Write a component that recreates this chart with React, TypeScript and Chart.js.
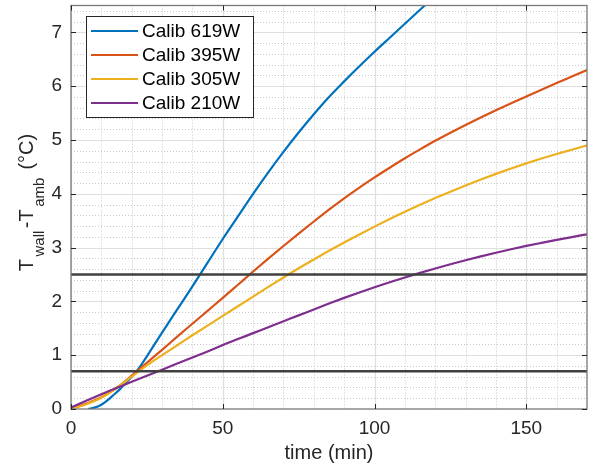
import React, { useEffect, useRef } from "react";
import { Chart, registerables } from "chart.js";

Chart.register(...registerables);

// ---- data ----
const TIME = [0, 5, 10, 15, 20, 25, 30, 35, 40, 45, 50, 55, 60, 65, 70, 75, 80, 85, 90, 95, 100, 105, 110, 115, 120, 125, 130, 135, 140, 145, 150, 155, 160, 165, 170];
const TIME_619W = [5.7, 8, 10, 12, 14, 16, 18, 20, 22, 25, 30, 35, 40, 45, 50, 55, 60, 65, 70, 75, 80, 85, 90, 95, 100, 105, 110, 115, 120];
const CALIB_619W = [0, 0.03, 0.08, 0.16, 0.26, 0.36, 0.48, 0.6, 0.73, 0.98, 1.42, 1.85, 2.28, 2.72, 3.16, 3.58, 4.0, 4.4, 4.78, 5.14, 5.48, 5.8, 6.09, 6.37, 6.64, 6.9, 7.16, 7.42, 7.68];
const CALIB_395W = [0, 0.1, 0.22, 0.39, 0.62, 0.86, 1.1, 1.345, 1.585, 1.825, 2.065, 2.31, 2.555, 2.795, 3.03, 3.26, 3.485, 3.705, 3.915, 4.115, 4.305, 4.485, 4.66, 4.825, 4.985, 5.135, 5.28, 5.42, 5.555, 5.685, 5.81, 5.935, 6.06, 6.18, 6.3];
const CALIB_305W = [0, 0.09, 0.21, 0.39, 0.6, 0.81, 1.0, 1.185, 1.37, 1.55, 1.73, 1.91, 2.09, 2.27, 2.445, 2.615, 2.78, 2.94, 3.095, 3.245, 3.39, 3.53, 3.665, 3.795, 3.92, 4.04, 4.155, 4.265, 4.37, 4.47, 4.565, 4.655, 4.74, 4.82, 4.9];
const CALIB_210W = [0.03, 0.155, 0.275, 0.39, 0.505, 0.618, 0.731, 0.844, 0.957, 1.07, 1.19, 1.3, 1.41, 1.52, 1.63, 1.74, 1.85, 1.96, 2.065, 2.165, 2.262, 2.355, 2.445, 2.53, 2.612, 2.69, 2.764, 2.836, 2.904, 2.969, 3.031, 3.088, 3.143, 3.196, 3.248];
const REF_LEVELS = [0.7, 2.5];
const SERIES_LABELS = ["Calib 619W", "Calib 395W", "Calib 305W", "Calib 210W"];
const SERIES_COLORS = ["#0072BD", "#D95319", "#EDB120", "#7E2F8E"];
const X_RANGE = [0, 170];
const Y_RANGE = [0, 7.5];
const X_MAJOR = [0, 50, 100, 150];
const Y_MAJOR = [0, 1, 2, 3, 4, 5, 6, 7];
const X_MINOR_STEP = 10;
const Y_MINOR_STEP = 0.2;

const FONT = "'Liberation Sans', Arial, Helvetica, sans-serif";
const TEXT = "#262626";

const toPoints = (xs: number[], ys: number[]) => xs.map((x, i) => ({ x, y: ys[i] }));

const matlabPlugin = {
  id: "matlabLook",
  beforeDatasetsDraw(chart: any) {
    const { ctx, chartArea: a, scales } = chart;
    const xs = scales.x;
    const ys = scales.y;
    ctx.save();
    ctx.beginPath();
    ctx.rect(a.left, a.top, a.right - a.left, a.bottom - a.top);
    ctx.clip();
    // minor dotted grid
    ctx.strokeStyle = "rgb(200,200,200)";
    ctx.lineWidth = 1;
    ctx.setLineDash([1, 2]);
    const nx = Math.round((X_RANGE[1] - X_RANGE[0]) / X_MINOR_STEP);
    for (let i = 1; i <= nx; i++) {
      const v = X_RANGE[0] + i * X_MINOR_STEP;
      if (X_MAJOR.some((m) => Math.abs(m - v) < 1e-6)) continue;
      const px = Math.round(xs.getPixelForValue(v)) + 0.5;
      ctx.beginPath();
      ctx.moveTo(px, a.top);
      ctx.lineTo(px, a.bottom);
      ctx.stroke();
    }
    const ny = Math.round((Y_RANGE[1] - Y_RANGE[0]) / Y_MINOR_STEP);
    for (let i = 1; i <= ny; i++) {
      const v = Y_RANGE[0] + i * Y_MINOR_STEP;
      if (Y_MAJOR.some((m) => Math.abs(m - v) < 1e-6)) continue;
      const py = Math.round(ys.getPixelForValue(v)) + 0.5;
      ctx.beginPath();
      ctx.moveTo(a.left, py);
      ctx.lineTo(a.right, py);
      ctx.stroke();
    }
    // major solid grid
    ctx.setLineDash([]);
    ctx.strokeStyle = "rgb(223,223,223)";
    ctx.lineWidth = 1.2;
    X_MAJOR.forEach((v) => {
      const px = Math.round(xs.getPixelForValue(v)) + 0.5;
      ctx.beginPath();
      ctx.moveTo(px, a.top);
      ctx.lineTo(px, a.bottom);
      ctx.stroke();
    });
    Y_MAJOR.forEach((v) => {
      const py = Math.round(ys.getPixelForValue(v)) + 0.5;
      ctx.beginPath();
      ctx.moveTo(a.left, py);
      ctx.lineTo(a.right, py);
      ctx.stroke();
    });
    ctx.restore();
  },
  afterDatasetsDraw(chart: any) {
    const { ctx, chartArea: a, scales } = chart;
    const xs = scales.x;
    const ys = scales.y;
    ctx.save();
    // axes box
    ctx.strokeStyle = "rgb(120,120,120)";
    ctx.lineWidth = 1.3;
    ctx.strokeRect(a.left, a.top, a.right - a.left, a.bottom - a.top);
    // inward ticks
    ctx.strokeStyle = TEXT;
    ctx.lineWidth = 1;
    const tl = 5;
    X_MAJOR.forEach((v) => {
      const px = Math.round(xs.getPixelForValue(v)) + 0.5;
      ctx.beginPath();
      ctx.moveTo(px, a.bottom);
      ctx.lineTo(px, a.bottom - tl);
      ctx.moveTo(px, a.top);
      ctx.lineTo(px, a.top + tl);
      ctx.stroke();
    });
    Y_MAJOR.forEach((v) => {
      const py = Math.round(ys.getPixelForValue(v)) + 0.5;
      ctx.beginPath();
      ctx.moveTo(a.left, py);
      ctx.lineTo(a.left + tl, py);
      ctx.moveTo(a.right, py);
      ctx.lineTo(a.right - tl, py);
      ctx.stroke();
    });

    // legend box
    const lx = a.left + 15;
    const ly = a.top + 10.5;
    const lw = 167;
    const lh = 101;
    ctx.fillStyle = "#ffffff";
    ctx.fillRect(lx, ly, lw, lh);
    ctx.strokeStyle = TEXT;
    ctx.lineWidth = 1;
    ctx.strokeRect(lx + 0.5, ly + 0.5, lw, lh);
    ctx.font = `19px ${FONT}`;
    ctx.textBaseline = "middle";
    ctx.textAlign = "left";
    SERIES_LABELS.forEach((lab, i) => {
      const cy = ly + 15 + i * 24;
      ctx.strokeStyle = SERIES_COLORS[i];
      ctx.lineWidth = 2.2;
      ctx.beginPath();
      ctx.moveTo(lx + 5, cy);
      ctx.lineTo(lx + 52, cy);
      ctx.stroke();
      ctx.fillStyle = "#000000";
      ctx.fillText(lab, lx + 56, cy + 1);
    });

    // x axis title
    ctx.fillStyle = TEXT;
    ctx.font = `20px ${FONT}`;
    ctx.textAlign = "center";
    ctx.textBaseline = "alphabetic";
    ctx.fillText("time (min)", (a.left + a.right) / 2, 459);

    // y axis title with subscripts
    const pieces: [string, boolean][] = [
      ["T", false],
      ["wall", true],
      ["-T", false],
      ["amb", true],
      [" (°C)", false],
    ];
    const mainFont = `20px ${FONT}`;
    const subFont = `15px ${FONT}`;
    const gap = 2.5;
    let total = 0;
    const widths = pieces.map(([t, sub]) => {
      ctx.font = sub ? subFont : mainFont;
      const w = ctx.measureText(t).width;
      total += w;
      return w;
    });
    total += gap * (pieces.length - 1);
    ctx.translate(32.7, 202.5);
    ctx.rotate(-Math.PI / 2);
    ctx.textAlign = "left";
    ctx.textBaseline = "alphabetic";
    let cx = -total / 2;
    pieces.forEach(([t, sub], i) => {
      ctx.font = sub ? subFont : mainFont;
      ctx.fillText(t, cx, sub ? 11.5 : 0);
      cx += widths[i] + gap;
    });
    ctx.restore();
  },
};

export default function App() {
  const canvasRef = useRef<HTMLCanvasElement | null>(null);

  useEffect(() => {
    document.body.style.margin = "0";
    const canvas = canvasRef.current;
    if (!canvas) return;

    const seriesData = [
      toPoints(TIME_619W, CALIB_619W),
      toPoints(TIME, CALIB_395W),
      toPoints(TIME, CALIB_305W),
      toPoints(TIME, CALIB_210W),
    ];

    const datasets: any[] = seriesData.map((d, i) => ({
      label: SERIES_LABELS[i],
      data: d,
      borderColor: SERIES_COLORS[i],
      backgroundColor: SERIES_COLORS[i],
      borderWidth: 2.2,
      pointRadius: 0,
      cubicInterpolationMode: "monotone",
      fill: false,
      clip: 0,
      order: 4 - i,
    }));

    REF_LEVELS.forEach((lvl) => {
      datasets.push({
        label: `ref ${lvl}`,
        data: [
          { x: X_RANGE[0], y: lvl },
          { x: X_RANGE[1], y: lvl },
        ],
        borderColor: "rgb(64,64,64)",
        borderWidth: 2.5,
        pointRadius: 0,
        fill: false,
        clip: 0,
        order: 0,
      });
    });

    const chart = new Chart(canvas, {
      type: "line",
      data: { datasets },
      options: {
        animation: false,
        responsive: false,
        maintainAspectRatio: false,
        devicePixelRatio: 1,
        layout: { padding: { top: 5.5, right: 2, left: 0, bottom: 0 } },
        plugins: {
          legend: { display: false },
          tooltip: { enabled: false },
        },
        scales: {
          x: {
            type: "linear",
            min: X_RANGE[0],
            max: X_RANGE[1],
            grid: { display: false, drawTicks: false },
            border: { display: false },
            ticks: {
              stepSize: 50,
              includeBounds: false,
              padding: 8,
              color: TEXT,
              font: { family: FONT, size: 19 },
              maxRotation: 0,
            },
            afterFit: (s: any) => {
              s.height = 61;
              s.paddingLeft = 0;
              s.paddingRight = 0;
            },
          },
          y: {
            type: "linear",
            min: Y_RANGE[0],
            max: Y_RANGE[1],
            grid: { display: false, drawTicks: false },
            border: { display: false },
            ticks: {
              stepSize: 1,
              includeBounds: false,
              padding: 9,
              color: TEXT,
              font: { family: FONT, size: 19 },
            },
            afterFit: (s: any) => {
              s.width = 71;
              s.paddingTop = 0;
              s.paddingBottom = 0;
            },
          },
        },
      },
      plugins: [matlabPlugin],
    });

    return () => chart.destroy();
  }, []);

  return (
    <div style={{ width: 589, height: 470, position: "relative" }}>
      <canvas ref={canvasRef} width={589} height={470} style={{ display: "block" }} />
    </div>
  );
}
